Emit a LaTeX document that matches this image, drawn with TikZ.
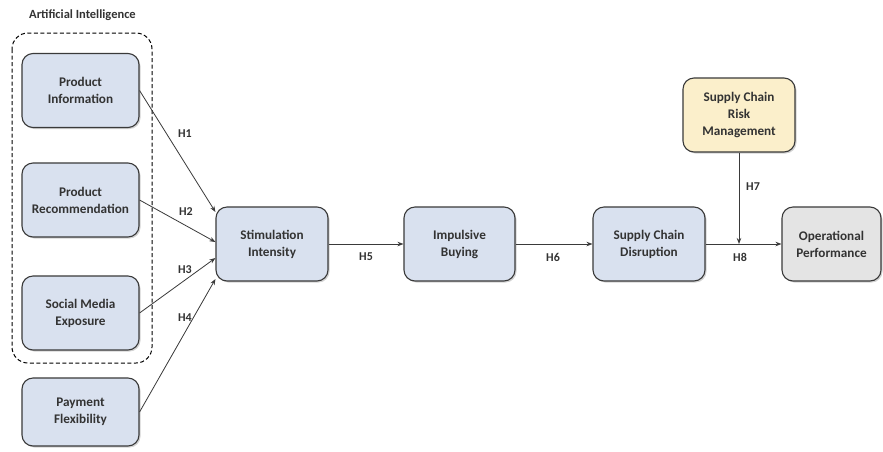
\documentclass[tikz,border=0pt]{standalone}
\usepackage{fontspec}
\setmainfont{Carlito}
\usetikzlibrary{shadows,arrows.meta,calc}
\definecolor{boxblue}{HTML}{D9E1EF}
\definecolor{boxyellow}{HTML}{FBEFCB}
\definecolor{boxgray}{HTML}{E4E4E4}
\definecolor{edgecol}{HTML}{3A3A3A}
\definecolor{txtcol}{HTML}{333333}
\begin{document}
\begin{tikzpicture}[x=1pt,y=-1pt,
  box/.style={draw=edgecol, line width=1.1pt, rounded corners=11pt, fill=boxblue,
    minimum width=117pt, minimum height=74pt, align=center, text=txtcol,
    font=\fontsize{13.2}{17}\selectfont\bfseries,
    drop shadow={shadow xshift=1.5pt, shadow yshift=-1.5pt, opacity=0.35}},
  conn/.style={draw=edgecol, line width=0.8pt, -{Stealth[length=6pt,width=4.5pt]}},
  hlabel/.style={text=txtcol, font=\fontsize{12}{14}\selectfont\bfseries, inner sep=1pt},
]
\useasboundingbox (0,0) rectangle (883,451);
\fill[white] (0,0) rectangle (883,451);

% group
\draw[black, line width=1pt, rounded corners=16pt, dash pattern=on 4pt off 2.5pt] (12,33) rectangle (152,363);
\node[text=txtcol, font=\fontsize{12.5}{14}\selectfont\bfseries, anchor=west, inner sep=0pt] (ai) at (29,15) {Artificial Intelligence};

\node[box] (pi) at (80.5,90.5) {Product\\Information};
\node[box] (pr) at (80.5,200) {Product\\Recommendation};
\node[box] (sme) at (80.5,313) {Social Media\\Exposure};
\node[box, minimum height=68pt] (pf) at (80.5,412) {Payment\\Flexibility};

\node[box, minimum width=112pt] (si) at (272,244) {Stimulation\\Intensity};
\node[box, minimum width=111pt] (ib) at (459.5,244) {Impulsive\\Buying};
\node[box, minimum width=112pt] (scd) at (649,244) {Supply Chain\\Disruption};
\node[box, minimum width=99pt, fill=boxgray] (op) at (831.5,244) {Operational\\Performance};
\node[box, minimum width=112pt, fill=boxyellow] (scrm) at (739,115) {Supply Chain\\Risk\\Management};

\coordinate (mid) at (739,244);

\draw[conn] (pi.east) -- ([yshift=32pt]si.west);
\draw[conn] (pr.east) -- ([yshift=2pt]si.west);
\draw[conn] (sme.east) -- ([yshift=-14pt]si.west);
\draw[conn] (pf.east) -- ([yshift=-35pt]si.west);
\draw[conn] (si.east) -- (ib.west);
\draw[conn] (ib.east) -- (scd.west);
\draw[conn] (scd.east) -- (op.west);
\draw[conn] (scrm.south) -- (mid);

\node[hlabel] (h1) at (185,134) {H1};
\node[hlabel] (h2) at (186,212) {H2};
\node[hlabel] (h3) at (185,270) {H3};
\node[hlabel] (h4) at (185,318) {H4};
\node[hlabel] (h5) at (366,257) {H5};
\node[hlabel] (h6) at (553,257) {H6};
\node[hlabel] (h7) at (753,187) {H7};
\node[hlabel] (h8) at (740,257) {H8};
\end{tikzpicture}
\end{document}
